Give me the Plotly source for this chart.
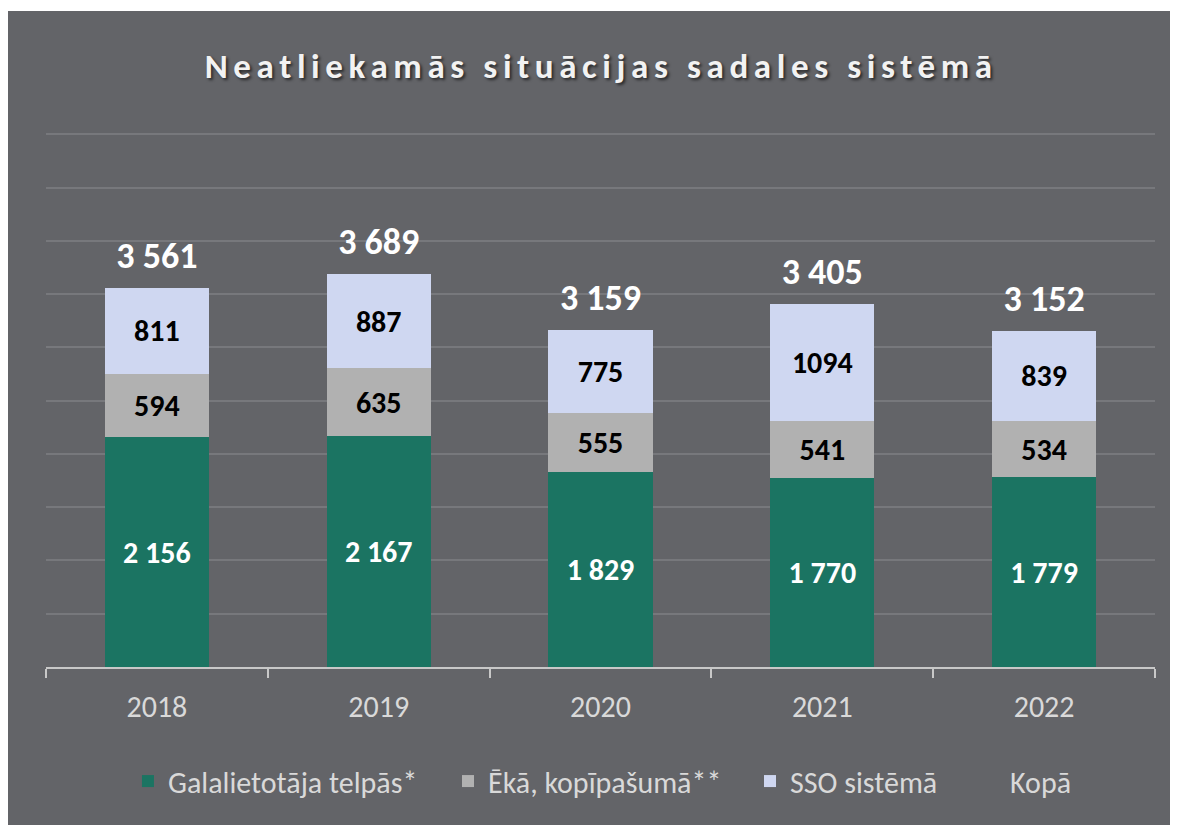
import plotly.graph_objects as go

years = ["2018", "2019", "2020", "2021", "2022"]
galalietotaja = [2156, 2167, 1829, 1770, 1779]
eka_kopipasuma = [594, 635, 555, 541, 534]
sso_sistema = [811, 887, 775, 1094, 839]
kopa = [a + b + c for a, b, c in zip(galalietotaja, eka_kopipasuma, sso_sistema)]

BG = "#636468"
GRID = "#77787c"
TXT = "#d9d9d9"
FONT = "Carlito, Lato, sans-serif"

# the page body has an 8px margin, so the figure is sized to fit the window
W, H = 1170, 817
ML, MR, MT, MB = 38, 23, 121, 158

fig = go.Figure()
fig.add_trace(go.Bar(
    x=years, y=galalietotaja, name="Galalietotāja telpās*", legend="legend",
    marker=dict(color="#1b7462", line=dict(width=0)),
    texttemplate="%{y:,}", textposition="inside", insidetextanchor="middle",
    textfont=dict(color="white", size=30, family=FONT, weight="bold"),
    textangle=0,
))
fig.add_trace(go.Bar(
    x=years, y=eka_kopipasuma, name="Ēkā, kopīpašumā**", legend="legend2",
    marker=dict(color="#b1b1b1", line=dict(width=0)),
    texttemplate="%{y:,}", textposition="inside", insidetextanchor="middle",
    textfont=dict(color="black", size=30, family=FONT, weight="bold"),
    textangle=0,
))
fig.add_trace(go.Bar(
    x=years, y=sso_sistema, name="SSO sistēmā", legend="legend3",
    marker=dict(color="#cfd7f1", line=dict(width=0)),
    texttemplate="%{y}", textposition="inside", insidetextanchor="middle",
    textfont=dict(color="black", size=30, family=FONT, weight="bold"),
    textangle=0,
))
fig.add_trace(go.Scatter(
    x=years, y=kopa, name="Kopā", mode="markers+text", legend="legend4",
    marker=dict(size=16, color="rgba(0,0,0,0)"),
    texttemplate="%{y:,}", textposition="top center",
    textfont=dict(color="white", size=36, family=FONT, weight="bold"),
))

# grey chart frame (white strip at top like the reference)
pw = W - ML - MR
ph = H - MT - MB
fig.add_shape(type="rect", xref="paper", yref="paper",
              x0=-ML / pw, x1=(W - ML) / pw,
              y0=-MB / ph, y1=(H - 3 - MB) / ph,
              fillcolor=BG, line=dict(width=0), layer="below")

def leg(x):
    return dict(orientation="h", x=x, xanchor="left", y=-0.212, yanchor="middle",
                font=dict(size=30, color=TXT, family=FONT), itemwidth=30,
                bgcolor="rgba(0,0,0,0)")

fig.update_layout(
    width=W, height=H,
    margin=dict(l=ML, r=MR, t=MT, b=MB),
    paper_bgcolor="white", plot_bgcolor="rgba(0,0,0,0)",
    barmode="stack", bargap=0.53,
    separators=". ",
    font=dict(family=FONT, color=TXT, size=30),
    title=dict(
        text="Neatliekamās situācijas sadales sistēmā",
        x=0.507, xanchor="center", y=1 - 58 / H, yanchor="middle",
        font=dict(family=FONT, size=35, color="#f2f2f2", weight="bold",
                  shadow="2px 2px 3px rgba(0,0,0,0.6)"),
    ),
    xaxis=dict(
        type="category", showgrid=False, showline=True, linecolor="#c8c8c8", linewidth=2,
        ticks="outside", tickson="boundaries", ticklen=9, tickwidth=2, tickcolor="#c8c8c8",
        tickfont=dict(size=30, color=TXT, family=FONT), ticklabelstandoff=12,
    ),
    yaxis=dict(
        range=[0, 5050], dtick=500, showgrid=True, gridcolor=GRID, gridwidth=2,
        showticklabels=False, zeroline=False, showline=False,
    ),
    legend=leg(0.0739),
    legend2=leg(0.3625),
    legend3=leg(0.6348),
    legend4=leg(0.8332),
    showlegend=True,
)

post = "document.querySelectorAll('.gtitle').forEach(function(e){e.style.letterSpacing='5.6px';});"
fig.write_html("out.html", post_script=post)
